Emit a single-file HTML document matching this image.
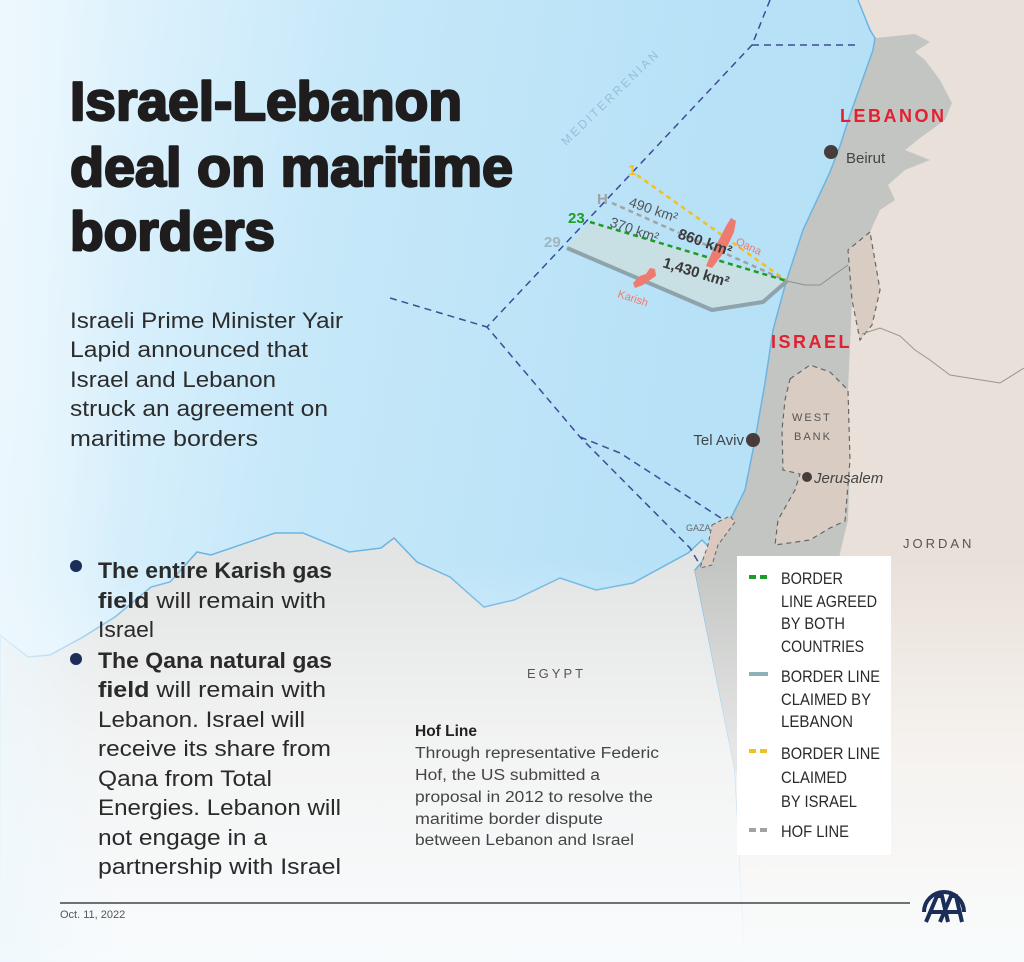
<!DOCTYPE html>
<html><head><meta charset="utf-8">
<style>
html,body{margin:0;padding:0;}
body{width:1024px;height:962px;overflow:hidden;background:#fff;}
svg{display:block;font-family:"Liberation Sans",sans-serif;}
</style></head>
<body>
<svg width="1024" height="962" viewBox="0 0 1024 962" xmlns="http://www.w3.org/2000/svg">
<defs>
<linearGradient id="sea" x1="0" y1="0" x2="1" y2="0.15">
<stop offset="0" stop-color="#eaf7fe"/>
<stop offset="0.35" stop-color="#c6e8f9"/>
<stop offset="0.7" stop-color="#b7e1f7"/>
<stop offset="1" stop-color="#b5e0f6"/>
</linearGradient>
<linearGradient id="fade" x1="0" y1="0" x2="0" y2="1">
<stop offset="0" stop-color="#ffffff" stop-opacity="0"/>
<stop offset="0.45" stop-color="#ffffff" stop-opacity="0.55"/>
<stop offset="1" stop-color="#f9fcfe" stop-opacity="0.97"/>
</linearGradient>
<linearGradient id="leftfade" x1="0" y1="0" x2="1" y2="0">
<stop offset="0" stop-color="#eef8fd" stop-opacity="0.8"/>
<stop offset="1" stop-color="#eef8fd" stop-opacity="0"/>
</linearGradient>
</defs>

<rect x="0" y="0" width="1024" height="962" fill="url(#sea)"/>

<path d="M0,635 L28,657 L50,655 L83,637 L115,617 L151,587 L170,582 L197,552 L211,555 L275,533 L303,533 L349,552 L381,548 L394,538 L417,562 L450,577 L484,607 L514,600 L560,578 L596,590 L633,583 L688,553 L702,540 L712,550 L695,570 L735,770 L745,962 L0,962 Z" fill="#e3e4e4" stroke="#6bb5e3" stroke-width="1.5"/>

<path d="M858,0 L1024,0 L1024,962 L745,962 L735,770 L695,570 L712,550 L730,520 L745,490 L755,440 L765,383 L773,330 L786,282 L803,230 L830,172 L840,146 L850,115 L873,50 L875,38 Z" fill="#e9e1d9"/>

<path d="M875,38 L915,34 L930,42 L915,52 L925,60 L940,80 L952,103 L945,120 L920,138 L905,150 L930,160 L905,170 L888,185 L895,200 L880,210 L870,232 L848,250 L852,300 L850,345 L848,390 L850,460 L848,520 L840,553 L830,620 L800,700 L760,780 L745,800 L735,770 L695,570 L712,550 L730,520 L745,490 L755,440 L765,383 L773,330 L786,282 L803,230 L830,172 L840,146 L850,115 L873,50 Z" fill="#c3c5c3"/>
<path d="M858,0 L870,30 L875,38 L873,50 L850,115 L840,146 L830,172 L803,230 L786,282 L773,330 L765,383 L755,440 L745,490 L730,520 L712,550 L695,570" fill="none" stroke="#6bb5e3" stroke-width="1.5"/>
<path d="M787,281 L805,285 L820,285 L838,272 L848,265" fill="none" stroke="#8d8f8d" stroke-width="1"/>
<path d="M870,232 L848,250 L852,300 L860,340 L872,325 L880,290 L874,255 Z" fill="#d9ccc3" stroke="#666" stroke-width="1.2" stroke-dasharray="5,4"/>
<path d="M862,334 L880,328 L900,336 L915,350 L930,360 L950,375 L1000,383 L1024,368" fill="none" stroke="#9a948e" stroke-width="1"/>
<path d="M790,379 L810,365 L830,372 L848,390 L850,460 L845,521 L830,528 L810,540 L775,545 L778,520 L795,490 L800,474 L783,470 L782,430 L785,400 Z" fill="#d9ccc3" stroke="#666" stroke-width="1.2" stroke-dasharray="5,4"/>
<path d="M712,525 L730,516 L735,522 L718,545 L712,565 L700,568 L708,545 Z" fill="#dbc9bf" stroke="#666" stroke-width="1" stroke-dasharray="4,3"/>

<rect x="0" y="560" width="1024" height="402" fill="url(#fade)"/>
<rect x="0" y="0" width="120" height="962" fill="url(#leftfade)"/>

<g fill="none" stroke="#3b4d97" stroke-width="1.5" stroke-dasharray="7,5">
<path d="M770,0 L752,45 L487,327 L580,437 L690,548 L700,565"/>
<path d="M752,45 L860,45"/>
<path d="M390,298 L487,327"/>
<path d="M580,437 L620,453 L724,520"/>
</g>

<text x="0" y="0" transform="translate(566,146) rotate(-44)" font-size="12" letter-spacing="2.5" fill="#93bfdb">MEDITERRENIAN</text>

<path d="M567,248 L590,222 L787,281 L763,302 L712,310 Z" fill="#c8dfe4"/>
<path d="M567,248 L712,310 L763,302 L787,281" fill="none" stroke="#8ea3ab" stroke-width="4"/>
<path d="M637,175 L787,281" stroke="#f1c21f" stroke-width="2.5" stroke-dasharray="5,4" fill="none"/>
<path d="M612,203 L787,281" stroke="#a0a3a5" stroke-width="2.5" stroke-dasharray="5,4" fill="none"/>
<path d="M590,222 L787,281" stroke="#1d9c26" stroke-width="2.5" stroke-dasharray="5,4" fill="none"/>
<path d="M731,218 L736,221 L734,232 L728,245 L722,255 L712,268 L706,266 L712,252 L720,238 L726,226 Z" fill="#ee7b6f"/>
<path d="M633,283 L640,276 L646,274 L650,268 L655,269 L656,276 L650,280 L643,285 L635,288 Z" fill="#ee7b6f"/>

<text x="628" y="175" font-size="15" font-weight="bold" fill="#f1c21f">1</text>
<text x="597" y="204" font-size="15" font-weight="bold" fill="#a0a3a5">H</text>
<text x="568" y="223" font-size="15" font-weight="bold" fill="#1d9c26">23</text>
<text x="544" y="247" font-size="15" font-weight="bold" fill="#9fb5bf">29</text>
<text transform="translate(628,206) rotate(19)" font-size="14" fill="#555">490 km²</text>
<text transform="translate(609,226) rotate(19)" font-size="14" fill="#555">370 km²</text>
<text transform="translate(677,238) rotate(19)" font-size="15" font-weight="bold" fill="#3a3a3a">860 km²</text>
<text transform="translate(662,267) rotate(17)" font-size="15" font-weight="bold" fill="#3a3a3a">1,430 km²</text>
<text transform="translate(735,244) rotate(25)" font-size="11" fill="#ee7b6f">Qana</text>
<text transform="translate(617,297) rotate(18)" font-size="11" fill="#ee7b6f">Karish</text>

<circle cx="831" cy="152" r="7" fill="#463d3a"/>
<text x="846" y="163" font-size="15" fill="#444">Beirut</text>
<circle cx="753" cy="440" r="7" fill="#463d3a"/>
<text x="744" y="445" font-size="15" fill="#444" text-anchor="end">Tel Aviv</text>
<circle cx="807" cy="477" r="5" fill="#463d3a"/>
<text x="814" y="483" font-size="15" font-style="italic" fill="#444">Jerusalem</text>
<text x="840" y="122" font-size="18" font-weight="bold" letter-spacing="2.5" fill="#e2202f">LEBANON</text>
<text x="771" y="348" font-size="18" font-weight="bold" letter-spacing="2.5" fill="#e2202f">ISRAEL</text>
<text x="792" y="421" font-size="11" letter-spacing="2" fill="#555">WEST</text>
<text x="794" y="440" font-size="11" letter-spacing="2" fill="#555">BANK</text>
<text x="686" y="531" font-size="9" fill="#666">GAZA</text>
<text x="903" y="548" font-size="13" letter-spacing="3" fill="#555">JORDAN</text>
<text x="527" y="678" font-size="13" letter-spacing="3" fill="#555">EGYPT</text>

<g font-weight="bold" font-size="55" fill="#1f1c1d" stroke="#1f1c1d" stroke-width="2.4" stroke-linejoin="round">
<text x="70" y="120" textLength="392" lengthAdjust="spacingAndGlyphs">Israel-Lebanon</text>
<text x="70" y="186" textLength="443" lengthAdjust="spacingAndGlyphs">deal on maritime</text>
<text x="70" y="250" textLength="205" lengthAdjust="spacingAndGlyphs">borders</text>
</g>

<g font-size="22" fill="#2c2c2c">
<text x="70" y="328" textLength="273" lengthAdjust="spacingAndGlyphs">Israeli Prime Minister Yair</text>
<text x="70" y="357" textLength="238" lengthAdjust="spacingAndGlyphs">Lapid announced that</text>
<text x="70" y="387" textLength="206" lengthAdjust="spacingAndGlyphs">Israel and Lebanon</text>
<text x="70" y="416" textLength="258" lengthAdjust="spacingAndGlyphs">struck an agreement on</text>
<text x="70" y="446" textLength="188" lengthAdjust="spacingAndGlyphs">maritime borders</text>
</g>

<circle cx="76" cy="566" r="6" fill="#1b2d59"/>
<circle cx="76" cy="659" r="6" fill="#1b2d59"/>
<g font-size="22" fill="#2a2a2a">
<text x="98" y="578" font-weight="bold" textLength="234" lengthAdjust="spacingAndGlyphs">The entire Karish gas</text>
<text x="98" y="608" textLength="228" lengthAdjust="spacingAndGlyphs"><tspan font-weight="bold">field</tspan> will remain with</text>
<text x="98" y="637" textLength="56" lengthAdjust="spacingAndGlyphs">Israel</text>
<text x="98" y="668" font-weight="bold" textLength="234" lengthAdjust="spacingAndGlyphs">The Qana natural gas</text>
<text x="98" y="697" textLength="228" lengthAdjust="spacingAndGlyphs"><tspan font-weight="bold">field</tspan> will remain with</text>
<text x="98" y="727" textLength="207" lengthAdjust="spacingAndGlyphs">Lebanon. Israel will</text>
<text x="98" y="756" textLength="233" lengthAdjust="spacingAndGlyphs">receive its share from</text>
<text x="98" y="786" textLength="174" lengthAdjust="spacingAndGlyphs">Qana from Total</text>
<text x="98" y="815" textLength="243" lengthAdjust="spacingAndGlyphs">Energies. Lebanon will</text>
<text x="98" y="845" textLength="169" lengthAdjust="spacingAndGlyphs">not engage in a</text>
<text x="98" y="874" textLength="243" lengthAdjust="spacingAndGlyphs">partnership with Israel</text>
</g>

<text x="415" y="736" font-size="16" font-weight="bold" fill="#222" textLength="62" lengthAdjust="spacingAndGlyphs">Hof Line</text>
<g font-size="15.5" fill="#444">
<text x="415" y="758" textLength="244" lengthAdjust="spacingAndGlyphs">Through representative Federic</text>
<text x="415" y="780" textLength="185" lengthAdjust="spacingAndGlyphs">Hof, the US submitted a</text>
<text x="415" y="802" textLength="238" lengthAdjust="spacingAndGlyphs">proposal in 2012 to resolve the</text>
<text x="415" y="824" textLength="188" lengthAdjust="spacingAndGlyphs">maritime border dispute</text>
<text x="415" y="845" textLength="219" lengthAdjust="spacingAndGlyphs">between Lebanon and Israel</text>
</g>

<rect x="737" y="556" width="154" height="299" fill="#ffffff"/>
<g stroke-width="4">
<path d="M749,577 L768,577" stroke="#1d9c26" stroke-dasharray="7,4"/>
<path d="M749,674 L768,674" stroke="#8fb0bb"/>
<path d="M749,751 L768,751" stroke="#f1c21f" stroke-dasharray="7,4"/>
<path d="M749,830 L768,830" stroke="#a0a3a5" stroke-dasharray="7,4"/>
</g>
<g font-size="17" fill="#2a2a2a">
<text x="781" y="584" textLength="62" lengthAdjust="spacingAndGlyphs">BORDER</text>
<text x="781" y="607" textLength="96" lengthAdjust="spacingAndGlyphs">LINE AGREED</text>
<text x="781" y="629" textLength="64" lengthAdjust="spacingAndGlyphs">BY BOTH</text>
<text x="781" y="652" textLength="83" lengthAdjust="spacingAndGlyphs">COUNTRIES</text>
<text x="781" y="682" textLength="99" lengthAdjust="spacingAndGlyphs">BORDER LINE</text>
<text x="781" y="705" textLength="90" lengthAdjust="spacingAndGlyphs">CLAIMED BY</text>
<text x="781" y="727" textLength="72" lengthAdjust="spacingAndGlyphs">LEBANON</text>
<text x="781" y="759" textLength="99" lengthAdjust="spacingAndGlyphs">BORDER LINE</text>
<text x="781" y="783" textLength="66" lengthAdjust="spacingAndGlyphs">CLAIMED</text>
<text x="781" y="807" textLength="76" lengthAdjust="spacingAndGlyphs">BY ISRAEL</text>
<text x="781" y="837" textLength="68" lengthAdjust="spacingAndGlyphs">HOF LINE</text>
</g>

<path d="M60,903 L910,903" stroke="#6f7275" stroke-width="2"/>
<text x="60" y="918" font-size="11" fill="#555">Oct. 11, 2022</text>
<g fill="none" stroke="#1b2d59">
<path d="M924,912 A20,20 0 0 1 964,912" stroke-width="4"/>
<path d="M926,922 L937,896 L942,896 L948,922 M931,912 L945,912" stroke-width="4"/>
<path d="M940,922 L951,896 L956,896 L962,922 M945,912 L959,912" stroke-width="4"/>
</g>
</svg>
</body></html>
